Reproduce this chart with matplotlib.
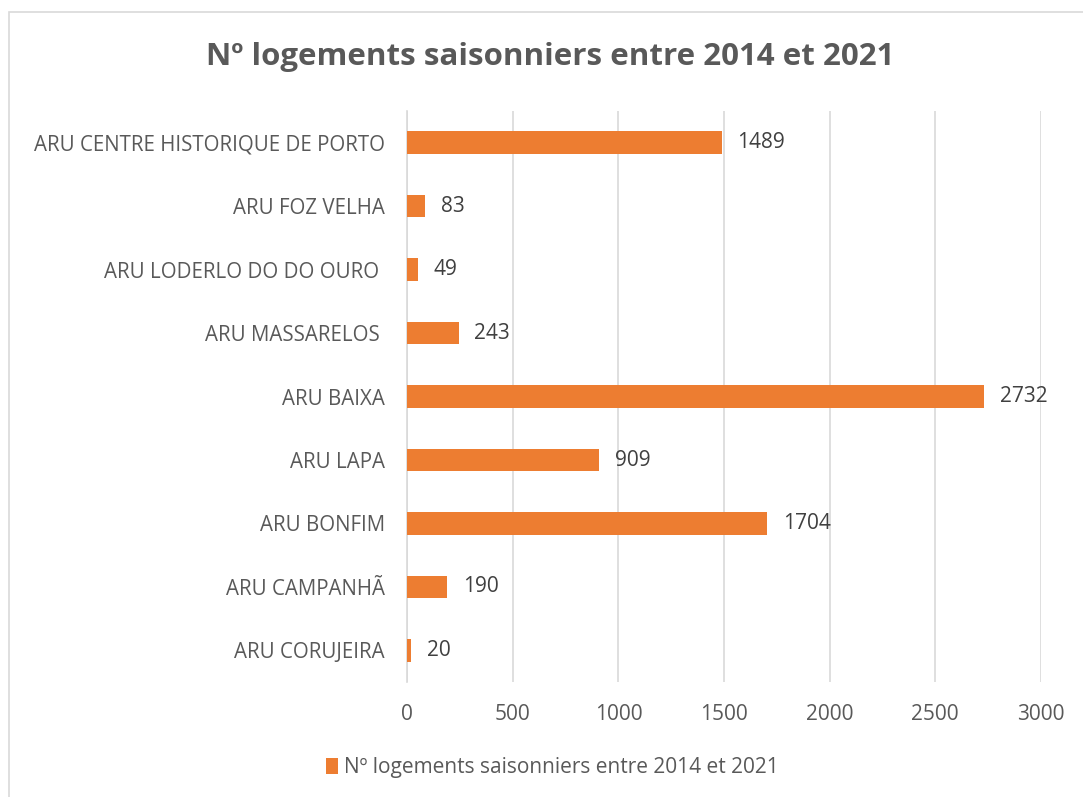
import matplotlib
matplotlib.use("Agg")
import matplotlib.pyplot as plt
from matplotlib.patches import Rectangle

plt.rcParams['font.family'] = ['Open Sans', 'DejaVu Sans']

# data, top to bottom as in the chart
categories = ["ARU CENTRE HISTORIQUE DE PORTO", "ARU FOZ VELHA", "ARU LODERLO DO DO OURO ",
              "ARU MASSARELOS ", "ARU BAIXA", "ARU LAPA", "ARU BONFIM",
              "ARU CAMPANHÃ", "ARU CORUJEIRA"]
values = [1489, 83, 49, 243, 2732, 909, 1704, 190, 20]
series_name = "Nº logements saisonniers entre 2014 et 2021"
xticks = [0, 500, 1000, 1500, 2000, 2500, 3000]

orange = "#ED7D31"
txt = "#595959"

fig = plt.figure(figsize=(10.83, 7.97), dpi=100)
ax = fig.add_axes([0.376, 0.144, 0.585, 0.717])

ypos = list(range(len(categories)))[::-1]
ax.barh(ypos, values, height=0.35, color=orange, zorder=3, label=series_name)
for y, v in zip(ypos, values):
    ax.text(v + 75, y, str(v), va="center", ha="left", fontsize=15, color="#404040")

ax.set_xlim(0, 3000)
ax.set_ylim(-0.5, len(categories) - 0.5)
ax.set_yticks(ypos)
ax.set_yticklabels(categories, fontsize=14.8, color=txt)
ax.set_xticks(xticks)
ax.set_xticklabels([str(t) for t in xticks], fontsize=15, color=txt)
ax.tick_params(length=0)
ax.tick_params(axis="x", pad=16)
ax.tick_params(axis="y", pad=16)
ax.grid(axis="x", color="#D9D9D9", linewidth=1.2, zorder=0)
for s in ["top", "right", "bottom"]:
    ax.spines[s].set_visible(False)
ax.spines["left"].set_color("#D9D9D9")
ax.spines["left"].set_linewidth(1.2)

fig.text(0.508, 0.928, series_name, ha="center", va="center", fontsize=22.5,
         fontweight="bold", color=txt)

leg = fig.legend(loc="center", bbox_to_anchor=(0.51, 0.037), frameon=False,
                 fontsize=15, handlelength=0.6, handleheight=0.8, handletextpad=0.3)
for t in leg.get_texts():
    t.set_color(txt)

fig.add_artist(Rectangle((0.008, -0.01), 1.2, 0.995, transform=fig.transFigure,
                         fill=False, edgecolor="#D9D9D9", linewidth=1.2))

fig.savefig("out.png", dpi=100)
